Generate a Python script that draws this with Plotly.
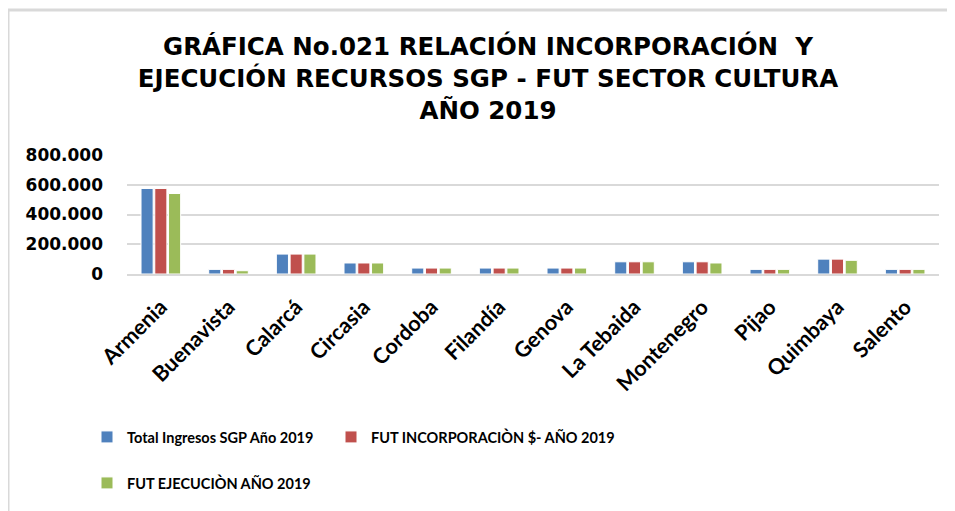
import plotly.graph_objects as go

categories = ["Armenia", "Buenavista", "Calarcá", "Circasia", "Cordoba", "Filandía",
              "Genova", "La Tebaida", "Montenegro", "Pijao", "Quimbaya", "Salento"]
total_ingresos = [575000, 31000, 134000, 74000, 40000, 40000, 40000, 82000, 82000, 31000, 100000, 31000]
fut_incorporacion = [575000, 31000, 134000, 74000, 40000, 40000, 40000, 82000, 82000, 31000, 100000, 31000]
fut_ejecucion = [541000, 22000, 134000, 74000, 40000, 40000, 40000, 82000, 74000, 31000, 92000, 31000]

series_names = ["Total Ingresos SGP Año 2019", "FUT INCORPORACIÒN $- AÑO 2019", "FUT EJECUCIÒN AÑO 2019"]
colors = ["#4F81BD", "#C0504D", "#9BBB59"]
y_ticks = [0, 200000, 400000, 600000, 800000]

W, H = 955, 511
OFF = 8  # page body margin: figure pixel = page pixel - OFF
# plot area in page pixels: x 127..939, y 155..274
ML, MR = 127 - OFF, W - (939 - OFF)
MT, MB = 155 - OFF, H - (274 - OFF)
pw, ph = W - ML - MR, H - MT - MB

def px_x(x):
    return (x - OFF - ML) / pw

def px_y(y):
    return (H - MB - (y - OFF)) / ph

fig = go.Figure()
legend_ids = ["legend", "legend2", "legend3"]
for name, vals, col, lg in zip(series_names, [total_ingresos, fut_incorporacion, fut_ejecucion],
                               colors, legend_ids):
    fig.add_trace(go.Bar(x=categories, y=vals, name=name, marker_color=col,
                         marker_line=dict(color="white", width=1), legend=lg))

legend_font = dict(family="Lato", size=14.5, color="black", weight="bold")
TXT_OFF = 41
legend_pos = [(128, 437), (372, 437), (128, 483)]
legends = {}
for lg, (tx, ty) in zip(legend_ids, legend_pos):
    legends[lg] = dict(orientation="h", xref="container", yref="container", visible=True,
                       x=(tx - OFF - TXT_OFF) / W, xanchor="left", y=1 - (ty - OFF) / H, yanchor="middle",
                       font=legend_font, bgcolor="rgba(0,0,0,0)")

fig.update_layout(
    width=W, height=H,
    showlegend=True,
    margin=dict(l=ML, r=MR, t=MT, b=MB),
    paper_bgcolor="white", plot_bgcolor="white",
    separators=",.",
    barmode="group", bargap=0.39, bargroupgap=0.12,
    title=dict(text="GRÁFICA No.021 RELACIÓN INCORPORACIÓN  Y<br>EJECUCIÓN RECURSOS SGP - FUT SECTOR CULTURA<br>AÑO 2019",
               x=(488 - OFF) / W, xanchor="center", xref="container",
               y=1 - 47 / H, yanchor="top", yref="container",
               font=dict(family="DejaVu Sans", size=24.5, color="black", weight="bold")),
    xaxis=dict(tickangle=-45, showline=True, linecolor="#D9D9D9", linewidth=2, automargin=False,
               ticks="", ticklabelstandoff=10,
               tickfont=dict(family="Lato", size=21.5, color="black", weight="bold")),
    yaxis=dict(range=[0, 800000], tickvals=y_ticks, tickformat=",d", automargin=False,
               showgrid=True, gridcolor="#D9D9D9", gridwidth=2, zeroline=False,
               ticks="", ticklabelstandoff=23,
               tickfont=dict(family="DejaVu Sans", size=17, color="black", weight="bold")),
    shapes=[dict(type="rect", xref="paper", yref="paper",
                 x0=px_x(8), x1=px_x(1100), y0=px_y(700), y1=px_y(10),
                 line=dict(color="#D9D9D9", width=3), layer="below")],
    **legends,
)

fig.write_html("out.html")
